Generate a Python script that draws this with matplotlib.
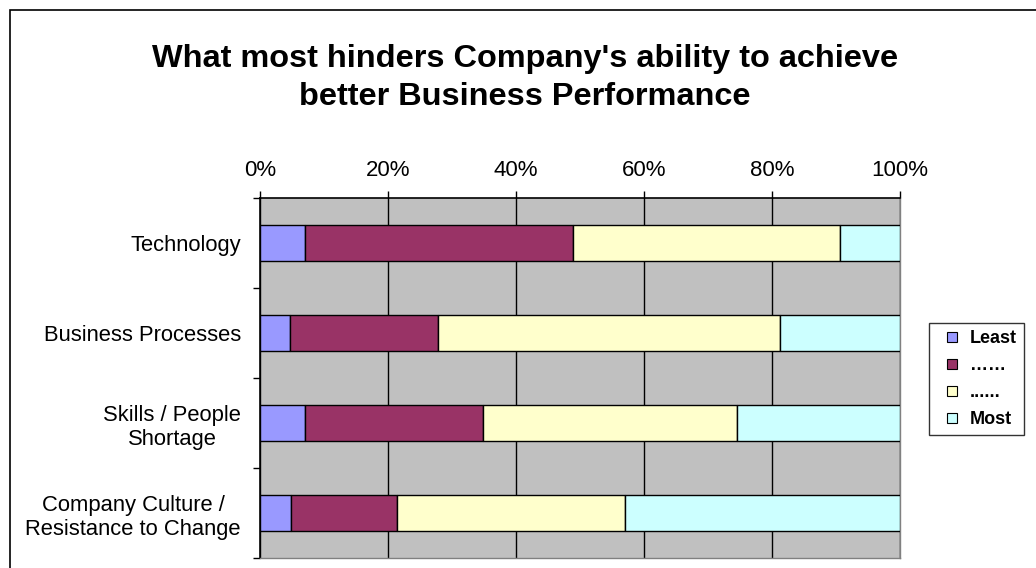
import matplotlib
matplotlib.use("Agg")
import matplotlib.pyplot as plt
from matplotlib.patches import Rectangle
from matplotlib.lines import Line2D
import numpy as np

plt.rcParams['font.family'] = ['Liberation Sans', 'DejaVu Sans']

categories = ["Technology", "Business Processes", "Skills / People\nShortage",
              "Company Culture /\nResistance to Change"]
series_names = ["Least", "……", "......", "Most"]
least = [7.0, 4.7, 7.0, 4.9]
second = [41.85, 23.1, 27.9, 16.5]
third = [41.75, 53.5, 39.7, 35.7]
most = [9.4, 18.7, 25.4, 42.9]
colors = ["#9999FF", "#993366", "#FFFFCC", "#CCFFFF"]
xticks = [0, 20, 40, 60, 80, 100]
xtick_labels = ["0%", "20%", "40%", "60%", "80%", "100%"]

W, H = 1036, 568
fig = plt.figure(figsize=(W / 100, H / 100), dpi=100)
fig.patch.set_facecolor("white")

# outer chart frame
fig.add_artist(Rectangle((10 / W, -0.1), 1.2, 1 - 10 / H + 0.1,
                         transform=fig.transFigure, fill=False,
                         edgecolor="black", linewidth=1.2))

ax = fig.add_axes([260 / W, 1 - 558 / H, 640 / W, 360 / H])
ax.set_facecolor("#C0C0C0")

y = np.arange(len(categories))
left = np.zeros(len(categories))
for vals, name, col in zip([least, second, third, most], series_names, colors):
    ax.barh(y, vals, left=left, height=0.4, color=col, edgecolor="black",
            linewidth=1.0, label=name, zorder=3)
    left = left + np.array(vals)

ax.set_xlim(0, 100)
ax.set_ylim(len(categories) - 0.5, -0.5)

ax.xaxis.tick_top()
ax.set_xticks(xticks)
ax.set_xticklabels(xtick_labels, fontsize=16)
ax.tick_params(axis="x", direction="out", length=5, width=1, pad=7.5)
ax.grid(axis="x", color="black", linewidth=1.0, zorder=1)
ax.set_axisbelow(True)

ax.set_yticks(np.arange(len(categories) + 1) - 0.5)
ax.set_yticklabels([])
ax.tick_params(axis="y", which="major", direction="out", length=5, width=1)
ax.set_yticks(y, minor=True)
ax.set_yticklabels(categories, minor=True, fontsize=15.8, multialignment="center",
                   linespacing=1.25)
ax.tick_params(axis="y", which="minor", length=0, pad=13.7)

for s in ["left", "top"]:
    ax.spines[s].set_color("black")
    ax.spines[s].set_linewidth(1.2)
for s in ["right", "bottom"]:
    ax.spines[s].set_color("#808080")
    ax.spines[s].set_linewidth(1.0)

fig.text(525 / W, 1 - 78 / H,
         "What most hinders Company's ability to achieve\nbetter Business Performance",
         ha="center", va="center", fontsize=23.4, fontweight="bold", linespacing=1.39)

handles = [Line2D([], [], linestyle="none", marker="s", markersize=6.5,
                  markerfacecolor=c, markeredgecolor="black", markeredgewidth=0.8)
           for c in colors]
leg = fig.legend(handles, series_names, loc="upper left",
                 bbox_to_anchor=(929 / W, 1 - 323 / H),
                 frameon=True, fancybox=False, edgecolor="black",
                 prop={"size": 13, "weight": "bold"}, handlelength=1.7,
                 handletextpad=0.15, labelspacing=0.55,
                 borderpad=0.4, borderaxespad=0)
leg.get_frame().set_linewidth(1.0)

fig.savefig("out.png", dpi=100, facecolor="white")
